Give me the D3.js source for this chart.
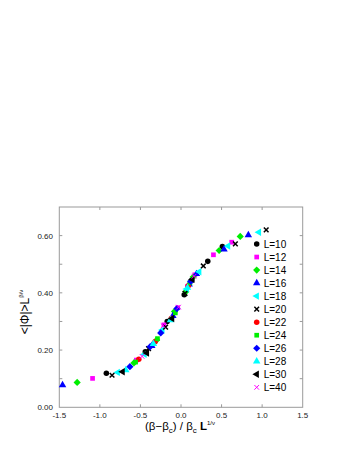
<!DOCTYPE html>
<html>
<head>
<meta charset="utf-8">
<script src="https://cdn.jsdelivr.net/npm/d3@7"></script>
<style>
  body { margin: 0; background: #fff; }
  svg { display: block; font-family: "Liberation Sans", Arial, sans-serif; }
</style>
</head>
<body>
<svg id="chart"></svg>
<script>
// series: [x, y] pairs
const sizes = [10, 12, 14, 16, 18, 20, 22, 24, 26, 28, 30, 40];
const L10 = [[-0.92,0.119],[-0.44,0.194],[-0.17,0.300],[0.04,0.393],[0.13,0.443],[0.33,0.510],[0.51,0.562]];
const L12 = [[-1.09,0.101],[-0.55,0.165],[-0.21,0.288],[-0.04,0.348],[0.08,0.422],[0.17,0.463],[0.40,0.533],[0.625,0.577]];
const L14 = [[-1.28,0.087],[-0.58,0.155],[-0.30,0.235],[-0.08,0.335],[0.06,0.404],[0.15,0.455],[0.47,0.548],[0.73,0.597]];
const L16 = [[-1.46,0.078],[-0.36,0.215],[-0.10,0.320],[0.10,0.430],[0.19,0.466],[0.53,0.552],[0.83,0.602]];
const L18 = [[-0.78,0.122],[-0.45,0.185],[-0.23,0.270],[0.07,0.413],[0.225,0.474],[0.58,0.564],[0.96,0.612]];
const L20 = [[-0.85,0.112],[-0.40,0.205],[-0.19,0.280],[0.05,0.398],[0.275,0.494],[0.67,0.571],[1.05,0.620]];
const L22 = [[-0.52,0.168],[-0.32,0.229],[-0.12,0.310],[0.09,0.425]];
const L24 = [[-0.56,0.158],[-0.29,0.240],[-0.07,0.330],[0.11,0.435]];
const L26 = [[-0.63,0.142],[-0.38,0.212],[-0.25,0.260],[-0.05,0.345],[0.12,0.440]];
const L28 = [[-0.68,0.130],[-0.34,0.222],[-0.13,0.305],[0.08,0.418]];
const L30 = [[-0.72,0.124],[-0.42,0.190],[-0.11,0.310],[0.14,0.447]];
const L40 = [[-0.48,0.178],[-0.22,0.285],[-0.03,0.350],[0.16,0.458]];
const seriesData = [L10, L12, L14, L16, L18, L20, L22, L24, L26, L28, L30, L40];

const xTicks = [-1.5, -1.0, -0.5, 0.0, 0.5, 1.0, 1.5];
const yTicks = [0.0, 0.2, 0.4, 0.6];
const yMinor = [0.1, 0.3, 0.5, 0.7];

const width = 354, height = 458;
const svg = d3.select("#chart").attr("width", width).attr("height", height);

const x = d3.scaleLinear().domain([-1.5, 1.5]).range([59.3, 302.7]);
const y = d3.scaleLinear().domain([0, 0.7]).range([407.3, 207]);

// square rotated 45deg, wider than d3's own diamond
const wideDiamond = {
  draw(ctx, size) {
    const r = Math.sqrt(size / 2);
    ctx.moveTo(0, -r); ctx.lineTo(r, 0); ctx.lineTo(0, r); ctx.lineTo(-r, 0); ctx.closePath();
  }
};

// marker style per series
const styles = [
  {type: d3.symbolCircle, color: "#000", size: 24},
  {type: d3.symbolSquare, color: "#ff00ff", size: 22},
  {type: wideDiamond, color: "#00ee00", size: 26},
  {type: d3.symbolTriangle, color: "#0000ff", size: 24},
  {type: d3.symbolTriangle, color: "#00ffff", size: 24, rot: -90},
  {type: d3.symbolTimes, color: "#000", size: 16, stroke: 1.5},
  {type: d3.symbolCircle, color: "#ff0000", size: 24},
  {type: d3.symbolSquare, color: "#00ee00", size: 22},
  {type: wideDiamond, color: "#0000ff", size: 26},
  {type: d3.symbolTriangle, color: "#00ffff", size: 24},
  {type: d3.symbolTriangle, color: "#000", size: 24, rot: -90},
  {type: d3.symbolTimes, color: "#ff00ff", size: 16, stroke: 1}
];

function drawSymbol(g, st) {
  const p = g.append("path").attr("d", d3.symbol().type(st.type).size(st.size)());
  if (st.rot) p.attr("transform", `rotate(${st.rot})`);
  if (st.stroke) p.attr("fill", "none").attr("stroke", st.color).attr("stroke-width", st.stroke);
  else p.attr("fill", st.color);
}

// frame
const frame = "#9a9a9a";
svg.append("rect")
  .attr("x", x(-1.5)).attr("y", y(0.7))
  .attr("width", x(1.5) - x(-1.5)).attr("height", y(0) - y(0.7))
  .attr("fill", "none").attr("stroke", frame).attr("stroke-width", 1);

// ticks, pointing inward on all four sides
const tk = 3;
const allY = yTicks.concat(yMinor).filter(v => v > 0 && v < 0.7);
allY.forEach(v => {
  svg.append("line").attr("x1", x(-1.5)).attr("x2", x(-1.5) + tk).attr("y1", y(v)).attr("y2", y(v)).attr("stroke", frame);
  svg.append("line").attr("x1", x(1.5)).attr("x2", x(1.5) - tk).attr("y1", y(v)).attr("y2", y(v)).attr("stroke", frame);
});
xTicks.filter(v => v > -1.5 && v < 1.5).forEach(v => {
  svg.append("line").attr("x1", x(v)).attr("x2", x(v)).attr("y1", y(0)).attr("y2", y(0) - tk).attr("stroke", frame);
  svg.append("line").attr("x1", x(v)).attr("x2", x(v)).attr("y1", y(0.7)).attr("y2", y(0.7) + tk).attr("stroke", frame);
});

// tick labels
svg.append("g").selectAll("text").data(xTicks).join("text")
  .attr("x", d => x(d)).attr("y", 418)
  .attr("text-anchor", "middle").attr("font-size", 8).attr("fill", "#222")
  .text(d => d.toFixed(1));
svg.append("g").selectAll("text").data(yTicks).join("text")
  .attr("x", 53).attr("y", d => y(d) + 3)
  .attr("text-anchor", "end").attr("font-size", 8).attr("fill", "#222")
  .text(d => d.toFixed(2));

// axis titles
const xt = svg.append("text").attr("x", 180).attr("y", 430)
  .attr("text-anchor", "middle").attr("font-size", 11.5).attr("fill", "#000");
xt.append("tspan").text("(β−β");
xt.append("tspan").attr("font-size", 8).attr("dy", 3).text("c");
xt.append("tspan").attr("dy", -3).text(") / β");
xt.append("tspan").attr("font-size", 8).attr("dy", 3).text("c");
xt.append("tspan").attr("dy", -3).attr("font-weight", "bold").text(" L");
xt.append("tspan").attr("font-size", 6).attr("dy", -5).text("1/ν");

const yt = svg.append("text").attr("transform", "translate(29,312) rotate(-90)")
  .attr("text-anchor", "middle").attr("font-size", 12).attr("fill", "#000");
yt.append("tspan").text("<|Φ|>L");
yt.append("tspan").attr("font-size", 6).attr("dy", -6).text("β/ν");

// data points
seriesData.forEach((pts, i) => {
  const g = svg.append("g");
  pts.forEach(p => {
    drawSymbol(g.append("g").attr("transform", `translate(${x(p[0])},${y(p[1])})`), styles[i]);
  });
});

// legend
const lg = svg.append("g");
sizes.forEach((s, i) => {
  const row = lg.append("g").attr("transform", `translate(256.7,${244 + i * 13.03})`);
  drawSymbol(row, styles[i]);
  row.append("text").attr("x", 7).attr("y", 3.6)
    .attr("font-size", 10).attr("fill", "#000").text("L=" + s);
});
</script>
</body>
</html>
